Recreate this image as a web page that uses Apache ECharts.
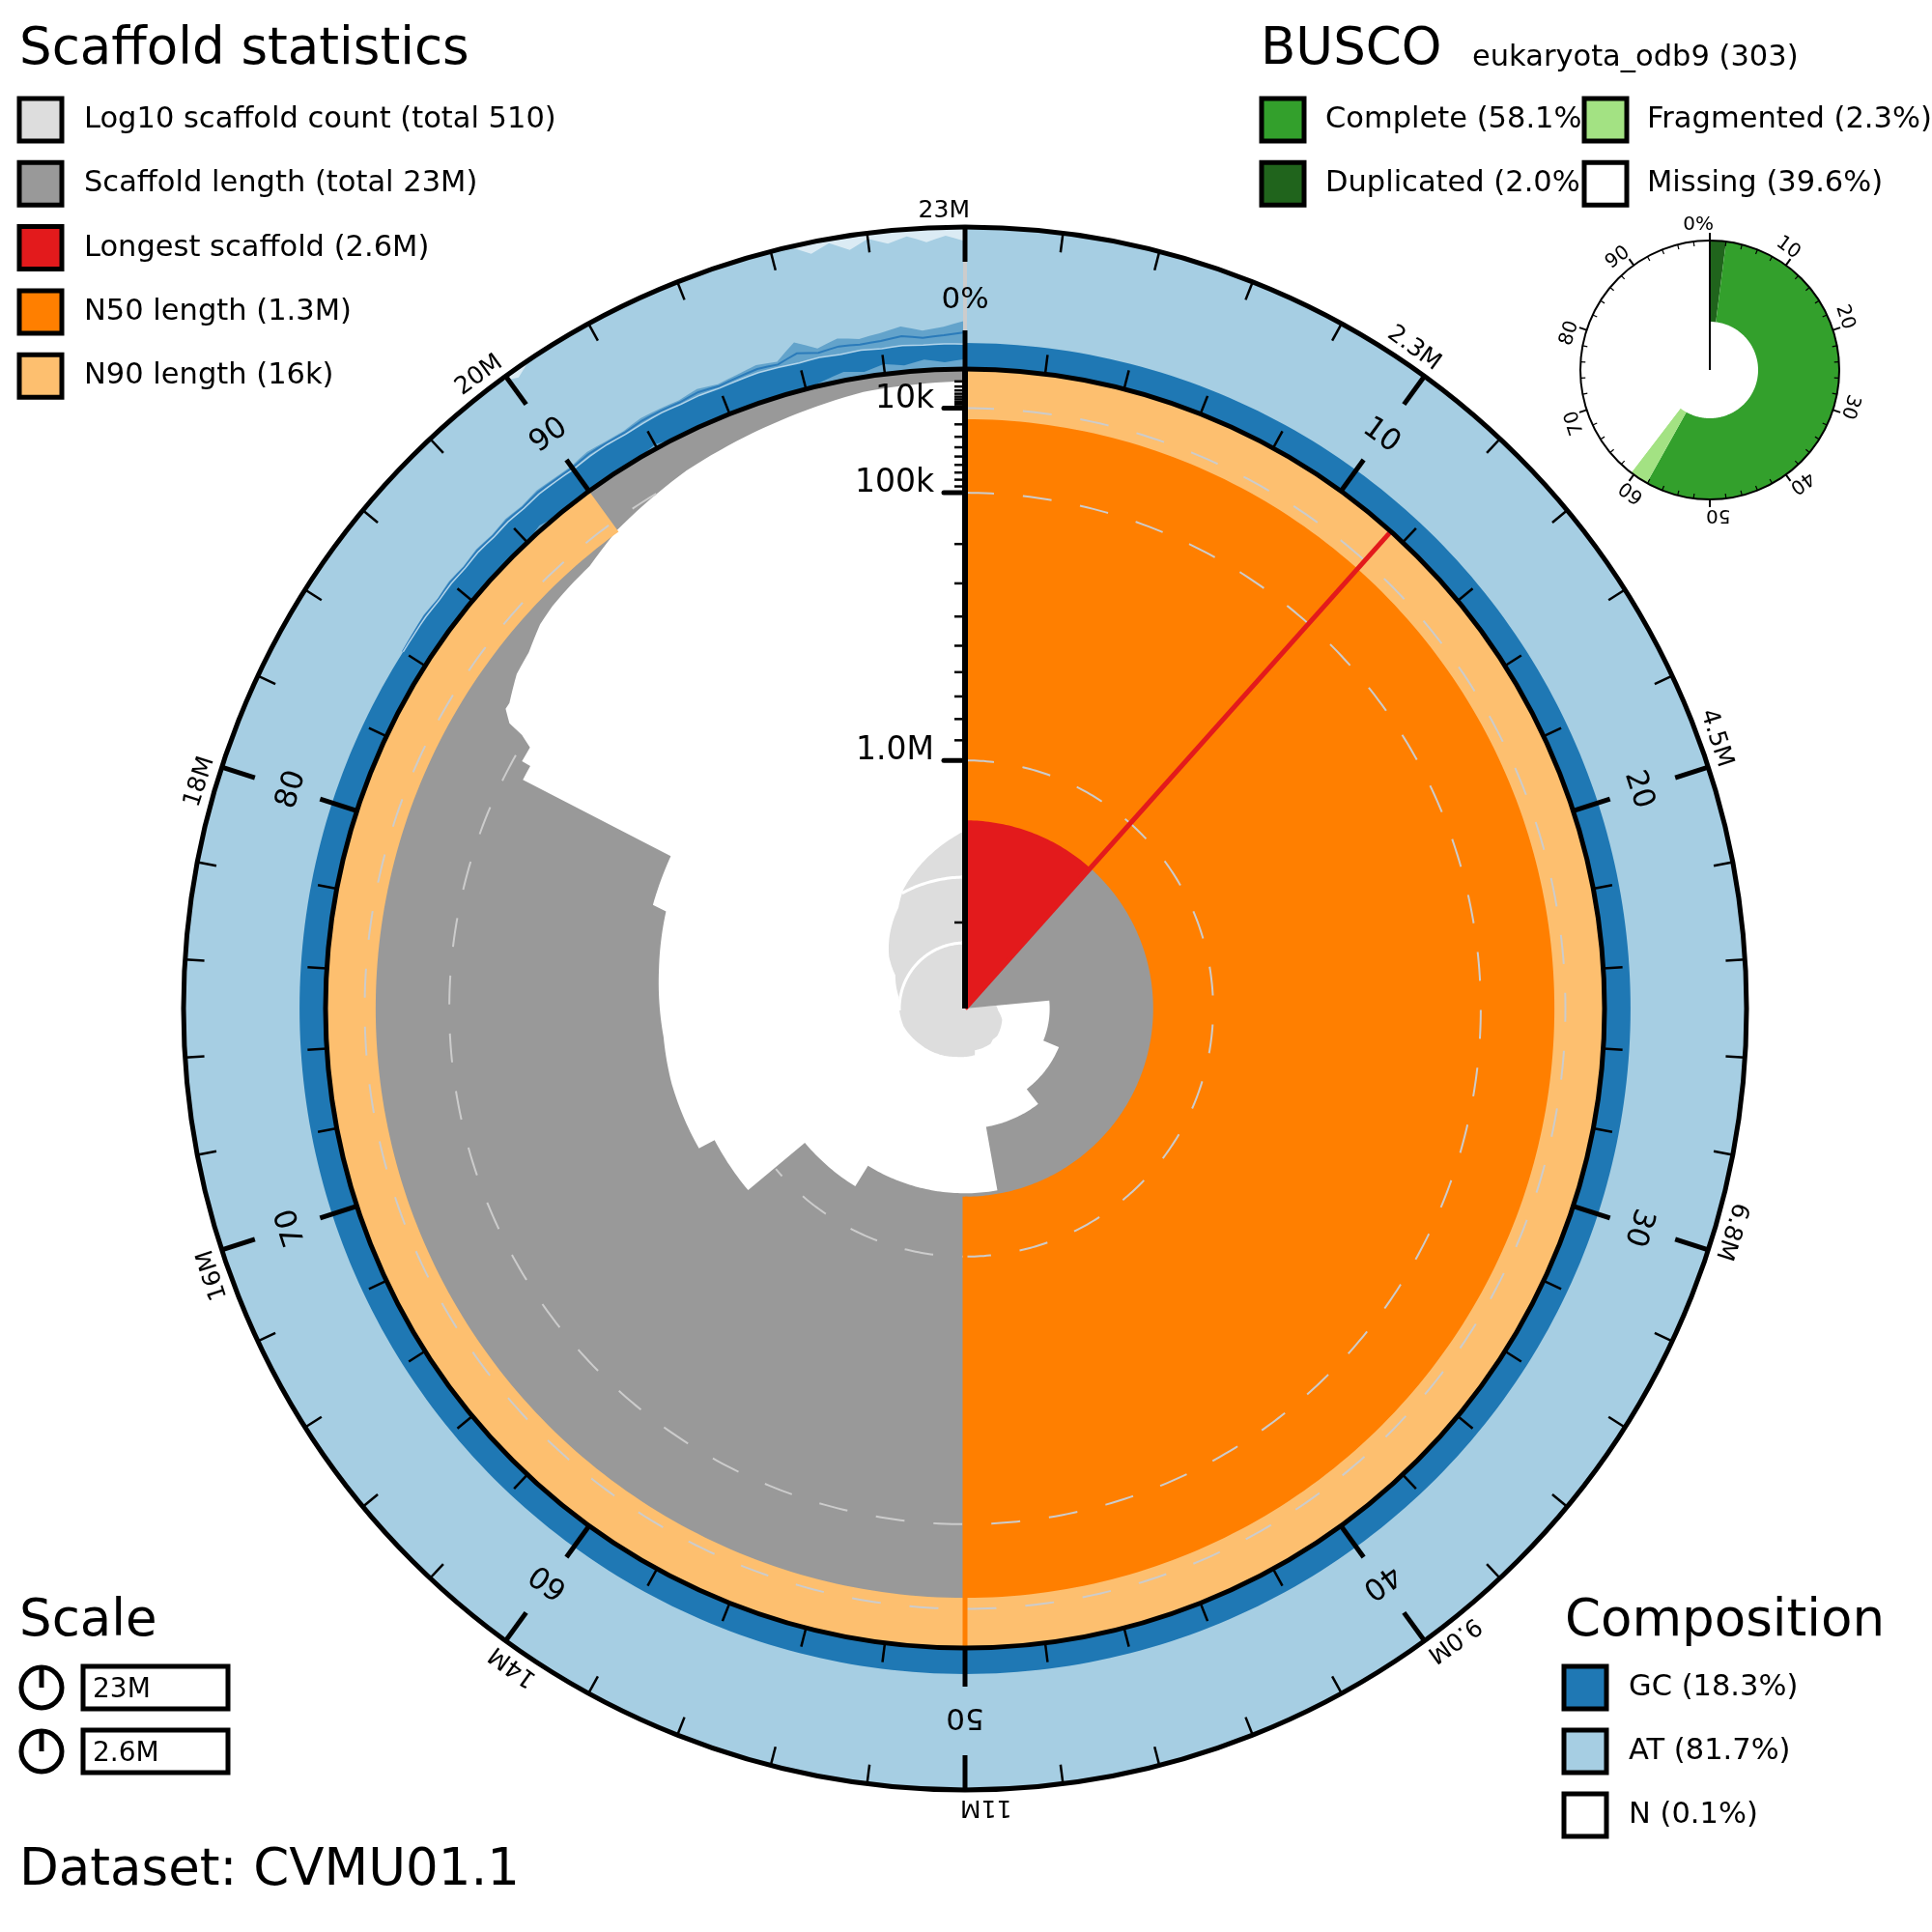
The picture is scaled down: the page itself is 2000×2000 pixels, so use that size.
<!DOCTYPE html>
<html>
<head>
<meta charset="utf-8">
<script src="https://cdn.jsdelivr.net/npm/echarts@6/dist/echarts.min.js"></script>
<style>html,body{margin:0;padding:0;background:#fff}#chart{width:2000px;height:2000px}</style>
</head>
<body>
<div id="chart"></div>
<script>
// ---------------- data ----------------
const longestLength = 2.67e6;   // longest scaffold (centre of radial scale)
const longestPct = 11.6;
const n50Length = 1.33e6;
const n50Pct = 50;
const n90Length = 16.4e3;
const n90Pct = 90;

// scaffold length profile (cumulative % of assembly -> scaffold length)
const greyPct = [0, 11.6, 11.6, 23.5, 23.5, 31.2, 31.2, 39.6, 39.6, 47.2, 47.2, 58.8, 58.8, 63.9, 63.9, 67.3, 67.3, 71.0, 73.5, 77.0, 80.0, 80.1, 82.6, 82.6, 83.1, 83.1, 83.6, 83.8, 83.9, 84.2, 84.4, 85.2, 85.9, 86.7, 87.3, 88.2, 88.8, 90.0, 92.4, 94.9, 97.4, 99.5, 100];
const greyLength = [2.67e6, 2.67e6, 2.65e6, 2.65e6, 2.01e6, 2.01e6, 1.89e6, 1.89e6, 1.76e6, 1.76e6, 1.35e6, 1.35e6, 1.21e6, 1.21e6, 0.83e6, 0.83e6, 0.75e6, 0.74e6, 0.74e6, 0.715e6, 0.69e6, 0.63e6, 0.62e6, 131e3, 131e3, 114e3, 114e3, 92e3, 68e3, 54e3, 54e3, 42e3, 38e3, 29e3, 26e3, 24e3, 23e3, 15e3, 7.4e3, 3.8e3, 1.4e3, 1.05e3, 1.0e3];

// cumulative scaffold count
const countPct = [0, 11.6, 11.6, 23.5, 23.5, 26, 29.7, 31.2, 36.2, 38.4, 40, 46.3, 46.7, 53.1, 58.7, 64.4, 70.5, 77.7, 82.1, 84.5, 87.3, 90.7, 92.4, 96.1, 100];
const countValue = [1, 1, 2, 2, 3, 3.2, 3.9, 4, 4.4, 4.3, 4.6, 4.5, 5.3, 5.6, 6.4, 7.5, 9.4, 10.5, 15, 25, 40, 69, 110, 233, 510];

// composition ring (fraction of ring width)
const gcPct  = [0, 84, 84.5, 85, 85.5, 86, 86.5, 87, 87.5, 88, 88.5, 89, 89.5, 90, 90.5, 91, 91.5, 92, 92.5, 93, 93.5, 94, 94.5, 95, 95.5, 96, 96.5, 97, 97.5, 98, 98.5, 99, 99.5, 100];
const gcBase = [0.183, 0.183, 0.186, 0.19, 0.185, 0.192, 0.188, 0.196, 0.19, 0.198, 0.192, 0.2, 0.195, 0.19, 0.198, 0.2, 0.194, 0.2, 0.205, 0.198, 0.202, 0.195, 0.2, 0.205, 0.198, 0.19, 0.195, 0.185, 0.19, 0.18, 0.185, 0.178, 0.18, 0.176];
const gcMean = [0.183, 0.186, 0.193, 0.2, 0.192, 0.203, 0.196, 0.208, 0.2, 0.211, 0.203, 0.215, 0.207, 0.202, 0.216, 0.212, 0.207, 0.22, 0.22, 0.214, 0.226, 0.21, 0.22, 0.232, 0.219, 0.26, 0.228, 0.243, 0.23, 0.235, 0.252, 0.229, 0.24, 0.258];
const gcMax  = [0.183, 0.19, 0.2, 0.21, 0.2, 0.215, 0.205, 0.22, 0.21, 0.225, 0.215, 0.23, 0.22, 0.215, 0.235, 0.225, 0.22, 0.24, 0.235, 0.23, 0.25, 0.225, 0.24, 0.26, 0.24, 0.34, 0.26, 0.3, 0.27, 0.29, 0.32, 0.28, 0.3, 0.34];
const gcLow  = [0, 0, 0, 0, 0, 0, 0, 0, 0, 0, 0.03, 0, 0, 0, 0, 0, 0, 0.03, 0, 0, 0, 0, 0, 0, 0, 0, 0.03, 0.06, 0.035, 0.07, 0.045, 0.075, 0.05, 0.07];
const nPct   = [0, 89.8, 90.2, 90.6, 96.4, 96.8, 97.2, 97.6, 98, 98.4, 98.8, 99.2, 99.6, 100];
const nValue = [0, 0, 0.06, 0, 0, 0.08, 0.03, 0.1, 0.04, 0.09, 0.05, 0.1, 0.06, 0.1];

// BUSCO
const buscoComplete = 58.1;
const buscoDuplicated = 2.0;
const buscoFragmented = 2.3;
const buscoMissing = 39.6;

// ticks / labels
const innerTickLabels = ['0%', '10', '20', '30', '40', '50', '60', '70', '80', '90'];
const outerTickLabels = ['23M', '2.3M', '4.5M', '6.8M', '9.0M', '11M', '14M', '16M', '18M', '20M'];
const radialTickValues = [1e4, 1e5, 1e6];
const radialTickLabels = ['10k', '100k', '1.0M'];
const radialMinorTicks = [1e3, 2e3, 3e3, 4e3, 5e3, 6e3, 7e3, 8e3, 9e3, 2e4, 3e4, 4e4, 5e4, 6e4, 7e4, 8e4, 9e4, 2e5, 3e5, 4e5, 5e5, 6e5, 7e5, 8e5, 9e5, 2e6];
const buscoTickLabels = ['0%', '10', '20', '30', '40', '50', '60', '70', '80', '90'];

const scaffoldLegendLabels = ['Log10 scaffold count (total 510)', 'Scaffold length (total 23M)', 'Longest scaffold (2.6M)', 'N50 length (1.3M)', 'N90 length (16k)'];
const scaffoldLegendColors = ['#dddddd', '#999999', '#e31a1c', '#ff7f00', '#fdbf6f'];
const buscoLegendLabels = ['Complete (58.1%)', 'Duplicated (2.0%)', 'Fragmented (2.3%)', 'Missing (39.6%)'];
const buscoLegendColors = ['#33a02c', '#20641c', '#a3e283', '#ffffff'];
const compLegendLabels = ['GC (18.3%)', 'AT (81.7%)', 'N (0.1%)'];
const compLegendColors = ['#1f78b4', '#a6cee3', '#ffffff'];
const scaleLabels = ['23M', '2.6M'];
const datasetName = 'CVMU01.1';

// ---------------- helpers ----------------
const FONT = '"DejaVu Sans", Verdana, sans-serif';
const ident = x => x;
const tOf = L => 1 - Math.sqrt(L / longestLength);   // reversed sqrt radial scale

function dist(a, c) { return Math.hypot(a[0] - c[0], a[1] - c[1]); }
function theta(pt, c) { return Math.atan2(pt[0] - c[0], -(pt[1] - c[1])); }

function lerpPath(api, pcts, vals, toLin, fromLin, step) {
  step = step || 0.25;
  const pts = [api.coord([fromLin(toLin(vals[0])), pcts[0]])];
  for (let i = 1; i < pcts.length; i++) {
    const p0 = pcts[i - 1], p1 = pcts[i];
    const v0 = toLin(vals[i - 1]), v1 = toLin(vals[i]);
    const n = Math.max(1, Math.ceil(Math.abs(p1 - p0) / step));
    for (let k = 1; k <= n; k++) {
      const f = k / n;
      pts.push(api.coord([fromLin(v0 + (v1 - v0) * f), p0 + (p1 - p0) * f]));
    }
  }
  return pts;
}
function arcPts(api, r, p0, p1, step) {
  step = step || 0.25;
  const n = Math.max(1, Math.ceil(Math.abs(p1 - p0) / step));
  const pts = [];
  for (let k = 0; k <= n; k++) pts.push(api.coord([r, p0 + (p1 - p0) * k / n]));
  return pts;
}
function sectorPoly(api, t0, t1, p0, p1, fill) {
  return { type: 'polygon', shape: { points: arcPts(api, t1, p0, p1).concat(arcPts(api, t0, p1, p0)) }, style: { fill: fill, stroke: null } };
}
function seg(a, b, color, w, cap) {
  return { type: 'line', shape: { x1: a[0], y1: a[1], x2: b[0], y2: b[1] }, style: { stroke: color, lineWidth: w, lineCap: cap || 'butt' } };
}
function tIn(p) {
  for (let i = 1; i < greyPct.length; i++) {
    const p0 = greyPct[i - 1], p1 = greyPct[i];
    if (p1 > p0 && p >= p0 && p <= p1) {
      const f = (p - p0) / (p1 - p0);
      const a = tOf(greyLength[i - 1]), b = tOf(greyLength[i]);
      return a + (b - a) * f;
    }
  }
  return 1;
}
function crossPct(v) {
  const lv = Math.log10(v);
  for (let i = 1; i < countPct.length; i++) {
    const a = Math.log10(countValue[i - 1]), b = Math.log10(countValue[i]);
    if (a < lv && b >= lv) return countPct[i - 1] + (countPct[i] - countPct[i - 1]) * (lv - a) / (b - a);
  }
  return 100;
}
function rotText(x, y, rot, text, size, align) {
  return { type: 'text', x: x, y: y, rotation: rot,
    style: { text: text, fill: '#000', fontSize: size, fontFamily: FONT, align: align || 'center', verticalAlign: 'middle' } };
}

// ---------------- renderers ----------------
function renderComp(params, api) {
  const cs = params.coordSys, C = [cs.cx, cs.cy];
  const ch = [];
  const rIn = dist(api.coord([0, 0]), C), rOut = dist(api.coord([1, 0]), C);
  ch.push({ type: 'sector', shape: { cx: C[0], cy: C[1], r0: rIn, r: rOut, startAngle: 0, endAngle: Math.PI * 2, clockwise: true }, style: { fill: '#a6cee3' } });
  const last = gcPct.length - 1;
  const base = lerpPath(api, gcPct, gcBase, ident, ident);
  ch.push({ type: 'polygon', shape: { points: arcPts(api, 0, gcPct[0], gcPct[last]).concat(base.slice().reverse()) }, style: { fill: '#1f78b4' } });
  const pv = gcPct.slice(1);
  const bPts = lerpPath(api, pv, gcBase.slice(1), ident, ident);
  const xPts = lerpPath(api, pv, gcMax.slice(1), ident, ident);
  ch.push({ type: 'polygon', shape: { points: bPts.concat(xPts.slice().reverse()) }, style: { fill: 'rgba(31,120,180,0.5)' } });
  ch.push({ type: 'polyline', shape: { points: lerpPath(api, pv, gcMean.slice(1), ident, ident) }, style: { stroke: '#2b7bba', lineWidth: 2, fill: null } });
  ch.push({ type: 'polyline', shape: { points: bPts }, style: { stroke: 'rgba(190,220,238,0.9)', lineWidth: 1.5, fill: null } });
  const lowPts = lerpPath(api, gcPct, gcLow, ident, ident);
  ch.push({ type: 'polygon', shape: { points: arcPts(api, 0, gcPct[0], gcPct[last]).concat(lowPts.reverse()) }, style: { fill: 'rgba(166,206,227,0.55)' } });
  const nPts = lerpPath(api, nPct, nValue, v => 1 - v, ident);
  ch.push({ type: 'polygon', shape: { points: arcPts(api, 1, nPct[0], nPct[nPct.length - 1]).concat(nPts.reverse()) }, style: { fill: 'rgba(255,255,255,0.6)' } });
  return { type: 'group', children: ch };
}

function renderCount(params, api) {
  const ch = [];
  const centre = api.coord([1, 0]);
  const pts = [centre].concat(lerpPath(api, countPct, countValue, Math.log10, x => Math.pow(10, x)));
  ch.push({ type: 'polygon', shape: { points: pts }, style: { fill: '#dddddd' } });
  [10, 100].forEach(v => {
    const ps = crossPct(v);
    ch.push({ type: 'polyline', shape: { points: arcPts(api, v, ps, 100) }, style: { stroke: '#ffffff', lineWidth: 3, fill: null } });
  });
  return { type: 'group', children: ch };
}

function renderMain(params, api) {
  const ch = [];
  const last = greyPct.length - 1;
  const outer = arcPts(api, 1, greyPct[0], greyPct[last]);
  const inner = lerpPath(api, greyPct, greyLength, tOf, ident);
  ch.push({ type: 'polygon', shape: { points: outer.concat(inner.reverse()) }, style: { fill: '#999999' } });
  ch.push(sectorPoly(api, 0, 1, 0, longestPct, '#e31a1c'));
  ch.push(sectorPoly(api, tOf(n50Length), 1, 0, n50Pct, '#ff7f00'));
  ch.push(sectorPoly(api, tOf(n90Length), 1, 0, n90Pct, '#fdbf6f'));
  radialTickValues.forEach(L => {
    const tc = tOf(L);
    let run = [];
    for (let i = 0; i <= 500; i++) {
      const p = i * 0.2;
      if (tc >= tIn(p) - 1e-6) run.push(api.coord([tc, p]));
      else { if (run.length > 1) ch.push({ type: 'polyline', shape: { points: run }, style: { stroke: '#cccccc', lineWidth: 2, lineDash: [30, 30], fill: null } }); run = []; }
    }
    if (run.length > 1) ch.push({ type: 'polyline', shape: { points: run }, style: { stroke: '#cccccc', lineWidth: 2, lineDash: [30, 30], fill: null } });
  });
  ch.push(seg(api.coord([0, longestPct]), api.coord([1, longestPct]), '#e31a1c', 5));
  ch.push(seg(api.coord([tOf(n50Length), n50Pct]), api.coord([1, n50Pct]), '#ff7f00', 5));
  return { type: 'group', children: ch };
}

function renderAxis(params, api) {
  const ch = [];
  const a0 = api.coord([0, 0]), a1 = api.coord([1, 0]);
  const len = dist(a0, a1);
  const u = [(a1[0] - a0[0]) / len, (a1[1] - a0[1]) / len];
  const n = [u[1], -u[0]];
  ch.push(seg(a0, a1, '#000', 6));
  radialMinorTicks.forEach(L => {
    const p = api.coord([tOf(L), 0]);
    ch.push(seg(p, [p[0] + n[0] * 11, p[1] + n[1] * 11], '#000', 2.5));
  });
  radialTickValues.forEach((L, i) => {
    const p = api.coord([tOf(L), 0]);
    ch.push(seg(p, [p[0] + n[0] * 22, p[1] + n[1] * 22], '#000', 5, 'round'));
    ch.push({ type: 'text', x: p[0] + n[0] * 32, y: p[1] + 7,
      style: { text: radialTickLabels[i], fill: '#000', fontSize: 33, fontFamily: FONT, align: 'right', verticalAlign: 'bottom' } });
  });
  return { type: 'group', children: ch };
}

function renderRingDecor(params, api) {
  const cs = params.coordSys, C = [cs.cx, cs.cy];
  const ch = [];
  const rIn = dist(api.coord([0, 0]), C), rOut = dist(api.coord([1, 0]), C);
  const w = rOut - rIn;
  ch.push(seg(api.coord([0, 0]), api.coord([1, 0]), '#cccccc', 4));
  for (let i = 0; i < 50; i++) {
    const p = i * 2;
    const major = (i % 5 === 0);
    const inLen = (major ? 40 : 20) / w, outLen = (major ? 36 : 20) / w;
    const lw = major ? 5 : 2.5;
    ch.push(seg(api.coord([0, p]), api.coord([inLen, p]), '#000', lw));
    ch.push(seg(api.coord([1, p]), api.coord([1 - outLen, p]), '#000', lw));
  }
  ch.push({ type: 'circle', shape: { cx: C[0], cy: C[1], r: rIn }, style: { fill: 'none', stroke: '#000', lineWidth: 5 } });
  ch.push({ type: 'circle', shape: { cx: C[0], cy: C[1], r: rOut }, style: { fill: 'none', stroke: '#000', lineWidth: 5 } });
  for (let i = 0; i < 10; i++) {
    const p = i * 10;
    const ip = api.coord([(733 - rIn) / w, p]);
    const th = theta(ip, C);
    ch.push(rotText(ip[0], ip[1], -th, innerTickLabels[i], 31, 'center'));
    const op = api.coord([(826 - rIn) / w, p]);
    const th2 = theta(op, C);
    ch.push(rotText(op[0] + 5 * Math.cos(th2), op[1] + 5 * Math.sin(th2), -th2, outerTickLabels[i], 25, 'right'));
  }
  return { type: 'group', children: ch };
}

function renderBusco(params, api) {
  const cs = params.coordSys, C = [cs.cx, cs.cy];
  const ch = [];
  const bounds = [0, buscoDuplicated, buscoComplete, buscoComplete + buscoFragmented, buscoComplete + buscoFragmented + buscoMissing];
  const cols = ['#20641c', '#33a02c', '#a3e283', '#ffffff'];
  for (let i = 0; i < 4; i++) ch.push(sectorPoly(api, 0, 1, bounds[i], Math.min(100, bounds[i + 1]), cols[i]));
  const rIn = dist(api.coord([0, 0]), C), rOut = dist(api.coord([1, 0]), C);
  const w = rOut - rIn;
  ch.push({ type: 'circle', shape: { cx: C[0], cy: C[1], r: rOut }, style: { fill: 'none', stroke: '#000', lineWidth: 2 } });
  ch.push(seg(C, api.coord([1, 0]), '#000', 2));
  for (let i = 0; i < 50; i++) {
    const p = i * 2;
    if (i % 5 === 0) ch.push(seg(api.coord([1, p]), api.coord([1 + 8 / w, p]), '#000', 2));
    else ch.push(seg(api.coord([1, p]), api.coord([1 - 5 / w, p]), '#000', 1.2));
  }
  for (let i = 0; i < 10; i++) {
    const lp = api.coord([1 + 16 / w, i * 10]);
    const th = theta(lp, C);
    ch.push(rotText(lp[0] + 4 * Math.cos(th), lp[1] + 4 * Math.sin(th), -th, buscoTickLabels[i], 20, 'right'));
  }
  return { type: 'group', children: ch };
}

// ---------------- legends (graphic) ----------------
const graphics = [];
function gText(x, y, text, size, z) {
  graphics.push({ type: 'text', x: x, y: y, z: z || 100, style: { text: text, fill: '#000', fontSize: size, fontFamily: FONT, align: 'left', verticalAlign: 'middle' } });
}
function gBox(x, yc, color, z) {
  graphics.push({ type: 'rect', z: z || 101, shape: { x: x, y: yc - 22, width: 44, height: 44 }, style: { fill: color, stroke: '#000', lineWidth: 5 } });
}
gText(20, 52, 'Scaffold statistics', 53);
scaffoldLegendLabels.forEach((t, i) => { const y = 124 + 66.3 * i; gBox(20, y, scaffoldLegendColors[i]); gText(87, y, t, 30.5); });
gText(1305, 52, 'BUSCO', 53);
gText(1524, 60, 'eukaryota_odb9 (303)', 30.5);
buscoLegendLabels.forEach((t, i) => {
  const col = i === 0 || i === 1 ? 0 : 1;
  const row = i === 0 || i === 2 ? 0 : 1;
  const y = 124 + 66.3 * row;
  const bx = col === 0 ? 1306 : 1640;
  const tx = col === 0 ? 1372 : 1705;
  gText(tx, y, t, 30.5, 100);
  gBox(bx, y, buscoLegendColors[i], 102);
});
gText(20, 1679, 'Scale', 53);
scaleLabels.forEach((t, i) => {
  const y = 1747 + 66 * i;
  graphics.push({ type: 'circle', z: 100, shape: { cx: 43, cy: y, r: 21 }, style: { fill: 'none', stroke: '#000', lineWidth: 5 } });
  graphics.push({ type: 'line', z: 100, shape: { x1: 43, y1: y, x2: 43, y2: y - 21 }, style: { stroke: '#000', lineWidth: 5 } });
  graphics.push({ type: 'rect', z: 100, shape: { x: 86, y: y - 22, width: 150, height: 44 }, style: { fill: '#fff', stroke: '#000', lineWidth: 5 } });
  gText(96, y + 3, t, 28, 101);
});
gText(20, 1937, 'Dataset: ' + datasetName, 53);
gText(1620, 1679, 'Composition', 53);
compLegendLabels.forEach((t, i) => { const y = 1747 + 66 * i; gBox(1619, y, compLegendColors[i]); gText(1686, y, t, 30.5); });

// ---------------- option ----------------
const CX = 999, CY = 1044;
const option = {
  animation: false,
  backgroundColor: '#ffffff',
  polar: [
    { center: [CX, CY], radius: [0, 662] },
    { center: [CX, CY], radius: [662, 809] },
    { center: [CX, CY], radius: [0, 204] },
    { center: [1770, 383], radius: [50, 134] }
  ],
  angleAxis: [0, 1, 2, 3].map(i => ({ polarIndex: i, type: 'value', min: 0, max: 100, startAngle: 90, clockwise: true, show: false })),
  radiusAxis: [
    { polarIndex: 0, type: 'value', min: 0, max: 1, show: false },
    { polarIndex: 1, type: 'value', min: 0, max: 1, show: false },
    { polarIndex: 2, type: 'log', min: 1, max: 1000, show: false },
    { polarIndex: 3, type: 'value', min: 0, max: 1, show: false }
  ],
  series: [
    { type: 'custom', coordinateSystem: 'polar', polarIndex: 1, z: 1, silent: true, renderItem: renderComp, data: [[0.5, 50]] },
    { type: 'custom', coordinateSystem: 'polar', polarIndex: 2, z: 2, silent: true, renderItem: renderCount, data: [[10, 50]] },
    { type: 'custom', coordinateSystem: 'polar', polarIndex: 0, z: 3, silent: true, renderItem: renderMain, data: [[0.5, 50]] },
    { type: 'custom', coordinateSystem: 'polar', polarIndex: 1, z: 4, silent: true, renderItem: renderRingDecor, data: [[0.5, 50]] },
    { type: 'custom', coordinateSystem: 'polar', polarIndex: 0, z: 5, silent: true, renderItem: renderAxis, data: [[0.5, 50]] },
    { type: 'custom', coordinateSystem: 'polar', polarIndex: 3, z: 5, silent: true, renderItem: renderBusco, data: [[0.5, 50]] }
  ],
  graphic: { elements: graphics }
};
const chart = echarts.init(document.getElementById('chart'), null, { renderer: 'canvas', width: 2000, height: 2000 });
chart.setOption(option);
</script>
</body>
</html>
